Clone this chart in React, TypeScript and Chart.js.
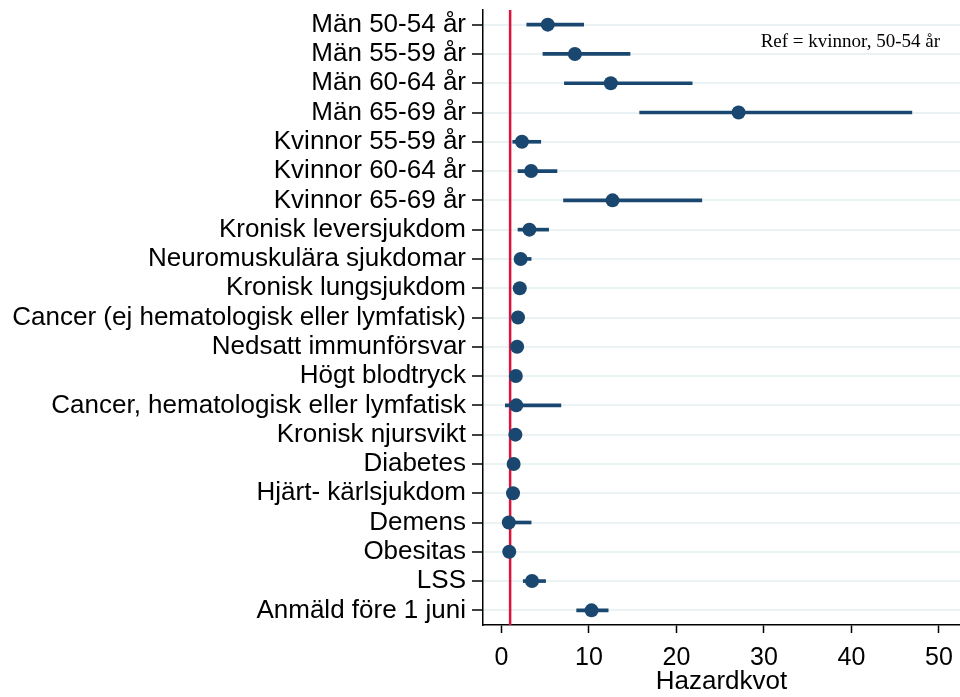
import React, { useEffect, useRef } from 'react';
import { Chart, registerables } from 'chart.js';

Chart.register(...registerables);

const categories = [
  'Män 50-54 år',
  'Män 55-59 år',
  'Män 60-64 år',
  'Män 65-69 år',
  'Kvinnor 55-59 år',
  'Kvinnor 60-64 år',
  'Kvinnor 65-69 år',
  'Kronisk leversjukdom',
  'Neuromuskulära sjukdomar',
  'Kronisk lungsjukdom',
  'Cancer (ej hematologisk eller lymfatisk)',
  'Nedsatt immunförsvar',
  'Högt blodtryck',
  'Cancer, hematologisk eller lymfatisk',
  'Kronisk njursvikt',
  'Diabetes',
  'Hjärt- kärlsjukdom',
  'Demens',
  'Obesitas',
  'LSS',
  'Anmäld före 1 juni',
];

const hazardRatios = [5.3, 8.4, 12.5, 27.1, 2.35, 3.4, 12.7, 3.2, 2.2, 2.1, 1.9, 1.8, 1.65, 1.7, 1.6, 1.4, 1.33, 0.85, 0.9, 3.5, 10.3];
const ciLower = [2.9, 4.75, 7.2, 15.8, 1.3, 1.9, 7.1, 1.9, 1.5, 1.7, 1.6, 1.5, 1.4, 0.45, 1.3, 1.2, 1.1, 0.25, 0.6, 2.5, 8.6];
const ciUpper = [9.4, 14.7, 21.8, 46.9, 4.5, 6.35, 22.9, 5.4, 3.4, 2.6, 2.3, 2.2, 1.9, 6.8, 2.0, 1.7, 1.6, 3.4, 1.3, 5.05, 12.2];

const xTicks = [0, 10, 20, 30, 40, 50];
const xMin = -2.1;
const xMax = 52.4;
const referenceValue = 1;
const noteText = 'Ref = kvinnor, 50-54 år';
const xTitle = 'Hazardkvot';

const NAVY = '#1a476f';
const RED = '#dc143c';
const GRID = '#eaf2f3';
const SANS = '"Liberation Sans", Arial, sans-serif';
const SERIF = '"Liberation Serif", "Times New Roman", serif';

const zeroPadding = (s: any) => {
  s.paddingLeft = 0;
  s.paddingRight = 0;
  s.paddingTop = 0;
  s.paddingBottom = 0;
};

const refLinePlugin = {
  id: 'refLine',
  beforeDatasetsDraw(chart: any) {
    const { ctx, chartArea, scales } = chart;
    const x = scales.x.getPixelForValue(referenceValue);
    ctx.save();
    ctx.strokeStyle = RED;
    ctx.lineWidth = 2.5;
    ctx.beginPath();
    ctx.moveTo(x, chartArea.top);
    ctx.lineTo(x, chartArea.bottom);
    ctx.stroke();
    ctx.restore();
  },
};

const notePlugin = {
  id: 'note',
  afterDatasetsDraw(chart: any) {
    const { ctx, chartArea } = chart;
    ctx.save();
    ctx.font = `19px ${SERIF}`;
    ctx.fillStyle = '#000';
    ctx.textAlign = 'right';
    ctx.textBaseline = 'alphabetic';
    ctx.fillText(noteText, chartArea.right - 20, chartArea.top + 36.5);
    ctx.restore();
  },
};

export default function App() {
  const canvasRef = useRef<HTMLCanvasElement | null>(null);

  useEffect(() => {
    if (!canvasRef.current) return;
    const chart = new Chart(canvasRef.current, {
      type: 'bar',
      data: {
        labels: categories,
        datasets: [
          {
            type: 'line',
            label: 'Hazardkvot',
            data: hazardRatios,
            indexAxis: 'y',
            showLine: false,
            pointRadius: 7,
            pointHoverRadius: 7,
            pointBackgroundColor: NAVY,
            pointBorderColor: NAVY,
            pointBorderWidth: 0,
            borderColor: NAVY,
            backgroundColor: NAVY,
            order: 0,
          } as any,
          {
            type: 'bar',
            label: 'KI',
            data: categories.map((_, i) => [ciLower[i], ciUpper[i]]),
            backgroundColor: NAVY,
            borderWidth: 0,
            barThickness: 3,
            grouped: false,
            order: 1,
          } as any,
        ],
      },
      options: {
        indexAxis: 'y',
        animation: false,
        responsive: true,
        maintainAspectRatio: false,
        layout: { autoPadding: false, padding: { top: 10, right: 0, bottom: 0, left: 0 } },
        plugins: {
          legend: { display: false },
          tooltip: { enabled: false },
        },
        scales: {
          x: {
            type: 'linear',
            min: xMin,
            max: xMax,
            afterBuildTicks: (s: any) => {
              s.ticks = xTicks.map((v) => ({ value: v }));
            },
            afterFit: (s: any) => {
              s.height = 72;
              zeroPadding(s);
            },
            grid: {
              drawOnChartArea: false,
              drawTicks: true,
              tickLength: 8,
              tickColor: '#000',
              tickWidth: 1.5,
            },
            border: { color: '#000', width: 1.5 },
            ticks: {
              color: '#000',
              font: { family: SANS, size: 25 },
              padding: 10,
              maxRotation: 0,
              autoSkip: false,
            },
            title: {
              display: true,
              text: xTitle,
              color: '#000',
              font: { family: SANS, size: 26 },
              padding: { top: 0, bottom: 0 },
            },
          },
          y: {
            type: 'category',
            offset: true,
            afterFit: (s: any) => {
              s.width = 483;
              zeroPadding(s);
            },
            grid: {
              offset: false,
              color: GRID,
              lineWidth: 2,
              drawTicks: true,
              tickLength: 11,
              tickColor: '#000',
              tickWidth: 1.5,
            },
            border: { color: '#000', width: 1.5 },
            ticks: {
              color: '#000',
              font: { family: SANS, size: 26 },
              padding: 6,
              autoSkip: false,
            },
          },
        },
      } as any,
      plugins: [refLinePlugin, notePlugin],
    });
    return () => chart.destroy();
  }, []);

  return (
    <div style={{ position: 'fixed', left: 0, top: 0, width: 960, height: 697, background: '#fff' }}>
      <canvas ref={canvasRef} />
    </div>
  );
}
